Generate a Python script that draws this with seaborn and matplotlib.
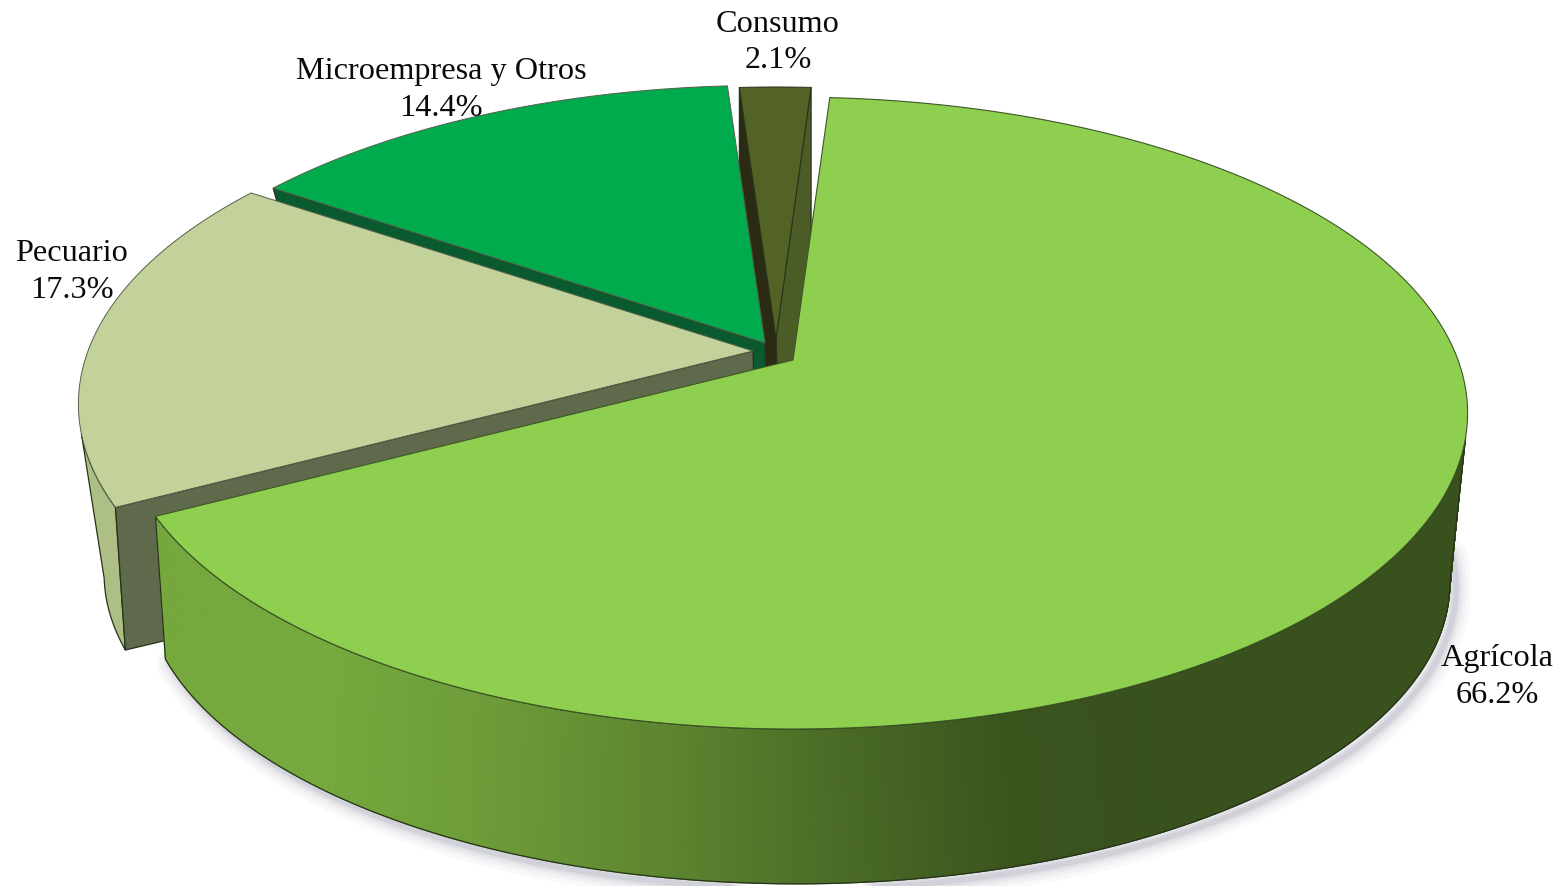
import numpy as np
import matplotlib
matplotlib.use("Agg")
import matplotlib.pyplot as plt
from matplotlib.collections import PolyCollection
import seaborn as sns

# ---- data ----
categories = ["Agrícola", "Pecuario", "Microempresa y Otros", "Consumo"]
shares = [66.2, 17.3, 14.4, 2.1]

# ---- styles ----
top_colors = ["#8FCF50", "#C3D29A", "#00AB4E", "#536326"]
rim_colors = ["#76A83E", "#AEBF85", "#0A5A30", "#4F5F26"]
cut_colors = ["#3C5520", "#5F6A4C", "#0A5A30", "#2B2B14"]
cut_right = "#4C5C26"
apex_offset = [(0, 0), (-40, -9), (-28, -17), (-17, -22)]
rim_scale = [1.0, 1.0, 0.98, 0.955]
label_pos = [(1497, 659), (72, 254), (441, 72), (778, 24)]
wall_ramp = ["#76A83E", "#76A83E", "#6C9A38", "#5D842F", "#4A6B26", "#3A541E", "#38511D"]
EDGE = "#26331A"

sns.set_theme(style="white")
plt.rcParams["font.family"] = ["Liberation Serif", "DejaVu Serif"]

fig, ax = plt.subplots(figsize=(15.68, 8.87), dpi=100)
ax.set_position([0, 0, 1, 1])
ax.set_xlim(0, 1568)
ax.set_ylim(887, 0)
ax.axis("off")

# disc projection parameters (perspective view of the top and base discs)
CX, CY, A, B, K = 793, 361, 665, 307, 0.168
CX2, CY2, A2, B2, K2 = 797, 510, 633, 283, 0.245


def top_xy(t, off=(0, 0), r=1.0):
    t = np.radians(t)
    d = 1 - K * np.sin(t)
    return (CX + off[0] + r * A * np.cos(t) / d,
            CY + off[1] + r * B * np.sin(t) / d)


def base_xy(t, off=(0, 0), r=1.0):
    t = np.radians(t)
    d = 1 - K2 * np.sin(t)
    return (CX2 + off[0] + r * A2 * np.cos(t) / d,
            CY2 + off[1] + r * B2 * np.sin(t) / d)


def arc(fn, t0, t1, off, r, n=160):
    x, y = fn(np.linspace(t0, t1, n), off, r)
    return np.column_stack([x, y])


# slice limits from the shares, clockwise on screen
START = -86.3
sweeps = np.array(shares) / sum(shares) * 360
limits = START + np.concatenate([[0], np.cumsum(sweeps)])
spans = list(zip(limits[:-1], limits[1:]))


def apex_top(off):
    return (CX + off[0], CY + off[1])


def apex_base(off):
    return (CX2 + off[0], CY2 + off[1])


def poly(pts, fc, z, ec=EDGE, lw=0.9):
    ax.fill(pts[:, 0], pts[:, 1], facecolor=fc, edgecolor=ec, linewidth=lw,
            joinstyle="round", zorder=z)


# ---- soft shadow under the main slice ----
t0, t1 = spans[0]
sh = arc(base_xy, 8, t1, (6, 5), 1.0)
for w, al in zip([22, 16, 11, 7, 4], [0.03, 0.04, 0.05, 0.07, 0.09]):
    ax.plot(sh[:, 0], sh[:, 1], color="#50506E", alpha=al, lw=w, zorder=1,
            solid_capstyle="round")

# ---- back to front: Consumo, Microempresa, Pecuario, Agrícola ----
z = 2
for i in [3, 2, 1]:
    t0, t1 = spans[i]
    off, r = apex_offset[i], rim_scale[i]
    at, ab = np.array(apex_top(off)), np.array(apex_base(off))

    if i == 3:  # both cut faces are visible on the narrow back slice
        p0, q0 = np.array(top_xy(t0, off, r)), np.array(base_xy(t0, off, r))
        p1, q1 = np.array(top_xy(t1, off, r)), np.array(base_xy(t1, off, r))
        poly(np.array([at, ab, [p1[0], q1[1]], p1]), cut_right, z)
        poly(np.array([at, ab, [p0[0], q0[1]], p0]), cut_colors[i], z)
    if i == 2:  # near-side cut face
        p0, q0 = np.array(top_xy(t0, off, r)), np.array(base_xy(t0, off, r))
        poly(np.array([at, ab, q0, p0]), cut_colors[i], z)
    if i == 1:  # outer wall and near-side cut face
        t_s = 165
        wall = np.vstack([arc(top_xy, t0, t_s, off, r),
                          arc(base_xy, t_s, t0, off, r)])
        poly(wall, rim_colors[i], z)
        p0, q0 = np.array(top_xy(t0, off, r)), np.array(base_xy(t0, off, r))
        poly(np.array([at, ab, q0, p0]), cut_colors[i], z)

    top = np.vstack([[at], arc(top_xy, t0, t1, off, r)])
    poly(top, top_colors[i], z + 1, ec=EDGE if i == 3 else "#55604A", lw=0.7)
    z += 2

# main slice: outer wall with a left-to-right shading ramp
t0, t1 = spans[0]
t_s = 14
ts = np.linspace(t_s, t1, 420)
xt, yt = top_xy(ts)
xb, yb = base_xy(ts)
quads = [[(xt[j], yt[j]), (xt[j + 1], yt[j + 1]), (xb[j + 1], yb[j + 1]), (xb[j], yb[j])]
         for j in range(len(ts) - 1)]
ramp = sns.blend_palette(wall_ramp, n_colors=256)
mid = (xt[:-1] + xb[:-1]) / 2
stops = np.clip((mid - 160) / (1180 - 160), 0, 1)
cols = [ramp[int(s * 255)] for s in stops]
ax.add_collection(PolyCollection(quads, facecolors=cols, edgecolors=cols,
                                 linewidths=0.8, zorder=z))
outline = np.vstack([arc(top_xy, t_s, t1, (0, 0), 1.0),
                     arc(base_xy, t1, t_s, (0, 0), 1.0)])
ax.fill(outline[:, 0], outline[:, 1], facecolor="none", edgecolor=EDGE,
        linewidth=0.9, zorder=z + 1)
top = np.vstack([[apex_top((0, 0))], arc(top_xy, t0, t1, (0, 0), 1.0, 500)])
poly(top, top_colors[0], z + 2, ec="#3E5626", lw=0.8)

# ---- labels ----
for cat, val, (x, y) in zip(categories, shares, label_pos):
    ax.text(x, y, cat, ha="center", va="center", fontsize=23.2, color="#0A0A0A", zorder=30)
    ax.text(x, y + 37, f"{val:.1f}%", ha="center", va="center", fontsize=23.2,
            color="#0A0A0A", zorder=30)

fig.savefig("out.png", dpi=100, facecolor="white")
